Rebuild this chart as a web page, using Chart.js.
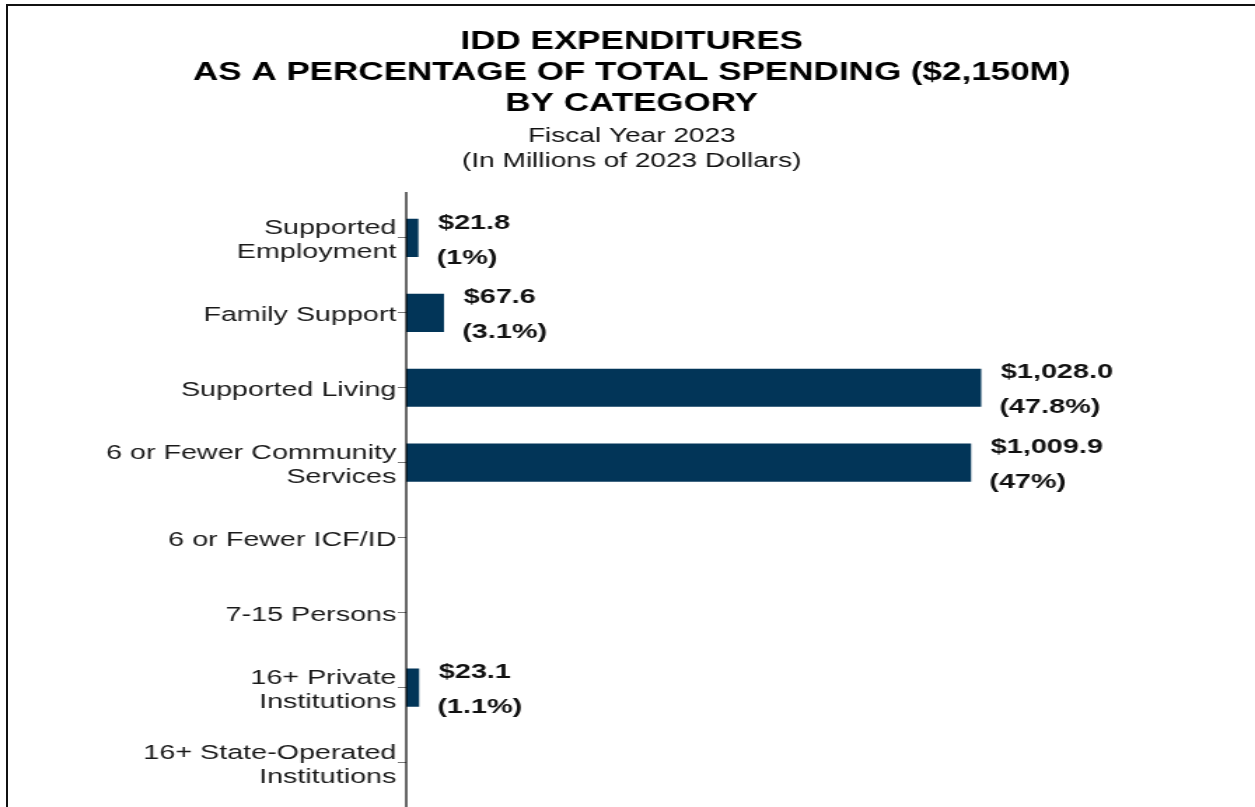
<!DOCTYPE html>
<html>
<head>
<meta charset="utf-8">
<title>IDD Expenditures by Category</title>
<script src="https://cdn.jsdelivr.net/npm/chart.js@4.4.0/dist/chart.umd.min.js"></script>
<style>
  html, body { margin: 0; padding: 0; background: #fff; overflow: hidden; }
  #frame {
    position: absolute; left: 6px; top: 4px; width: 1400px; height: 900px;
    border-top: 2px solid #111; border-left: 2px solid #111;
  }
  /* the reference picture is stretched sideways, so the chart is drawn narrow and widened */
  #stretch {
    position: absolute; left: 0; top: 0; width: 896px; height: 807px;
    transform: scaleX(1.4007); transform-origin: 0 0;
  }
</style>
</head>
<body>
<div id="frame"></div>
<div id="stretch"><canvas id="iddChart"></canvas></div>
<script>
/* =========================
   DATA
========================= */
const categories = [
  ["Supported", "Employment"],
  "Family Support",
  "Supported Living",
  ["6 or Fewer Community", "Services"],
  "6 or Fewer ICF/ID",
  "7-15 Persons",
  ["16+ Private", "Institutions"],
  ["16+ State-Operated", "Institutions"]
];
const spending = [21.8, 67.6, 1028.0, 1009.9, 0, 0, 23.1, 0];   // $ millions
const shareOfTotal = [1, 3.1, 47.8, 47, 0, 0, 1.1, 0];           // percent

const titleLines = [
  "IDD EXPENDITURES",
  "AS A PERCENTAGE OF TOTAL SPENDING ($2,150M)",
  "BY CATEGORY"
];
const subtitleLines = ["Fiscal Year 2023", "(In Millions of 2023 Dollars)"];

const FONT = '"Liberation Sans", Arial, Helvetica, sans-serif';

function money(v) {
  return "$" + v.toLocaleString("en-US", { minimumFractionDigits: 1, maximumFractionDigits: 1 });
}

/* =========================
   PLUGINS
========================= */
const valueLabels = {
  id: "valueLabels",
  afterDatasetsDraw(chart) {
    const ctx = chart.ctx;
    const meta = chart.getDatasetMeta(0);
    ctx.save();
    ctx.font = "bold 20.6px " + FONT;
    ctx.fillStyle = "#111";
    ctx.textAlign = "left";
    ctx.textBaseline = "middle";
    meta.data.forEach((bar, i) => {
      if (!spending[i]) return;
      const x = bar.x + 14;
      ctx.fillText(money(spending[i]), x, bar.y - 15);
      ctx.fillText("(" + shareOfTotal[i] + "%)", x - 1, bar.y + 20);
    });
    ctx.restore();
  }
};

const axisLine = {
  id: "axisLine",
  afterDraw(chart) {
    const ctx = chart.ctx;
    const x = chart.chartArea.left;
    ctx.save();
    ctx.strokeStyle = "#000";
    ctx.lineWidth = 1.2;
    ctx.beginPath();
    ctx.moveTo(x, 192);
    ctx.lineTo(x, chart.height);
    ctx.stroke();
    ctx.restore();
  }
};

/* =========================
   CHART
========================= */
new Chart(document.getElementById("iddChart"), {
  type: "bar",
  data: {
    labels: categories,
    datasets: [{
      label: "Expenditures",
      data: spending,
      backgroundColor: "#023558",
      borderWidth: 0,
      categoryPercentage: 1.0,
      barPercentage: 0.51
    }]
  },
  options: {
    indexAxis: "y",
    responsive: true,
    maintainAspectRatio: false,
    animation: false,
    layout: { padding: { left: 13, right: 7, top: 0, bottom: 7 } },
    plugins: {
      legend: { display: false },
      tooltip: { enabled: false },
      title: {
        display: true,
        text: titleLines,
        color: "#000",
        font: { family: FONT, size: 25, weight: "bold", lineHeight: 1.25 },
        padding: { top: 26.4, bottom: 2 }
      },
      subtitle: {
        display: true,
        text: subtitleLines,
        color: "#111",
        font: { family: FONT, size: 20, weight: "normal", lineHeight: 1.25 },
        padding: { top: 1.5, bottom: 26.7 }
      }
    },
    scales: {
      x: {
        display: false,
        min: 0,
        max: 1500
      },
      y: {
        afterFit(scale) {
          scale.width = 277;
          scale.paddingTop = 0;
          scale.paddingBottom = 0;
        },
        border: { display: false },
        grid: {
          display: true,
          offset: false,
          drawOnChartArea: false,
          drawTicks: true,
          tickLength: 6,
          color: "#777"
        },
        ticks: {
          padding: 1,
          labelOffset: 3,
          color: "#1a1a1a",
          font: { family: FONT, size: 20.5, lineHeight: 1.17 }
        }
      }
    }
  },
  plugins: [valueLabels, axisLine]
});
</script>
</body>
</html>
